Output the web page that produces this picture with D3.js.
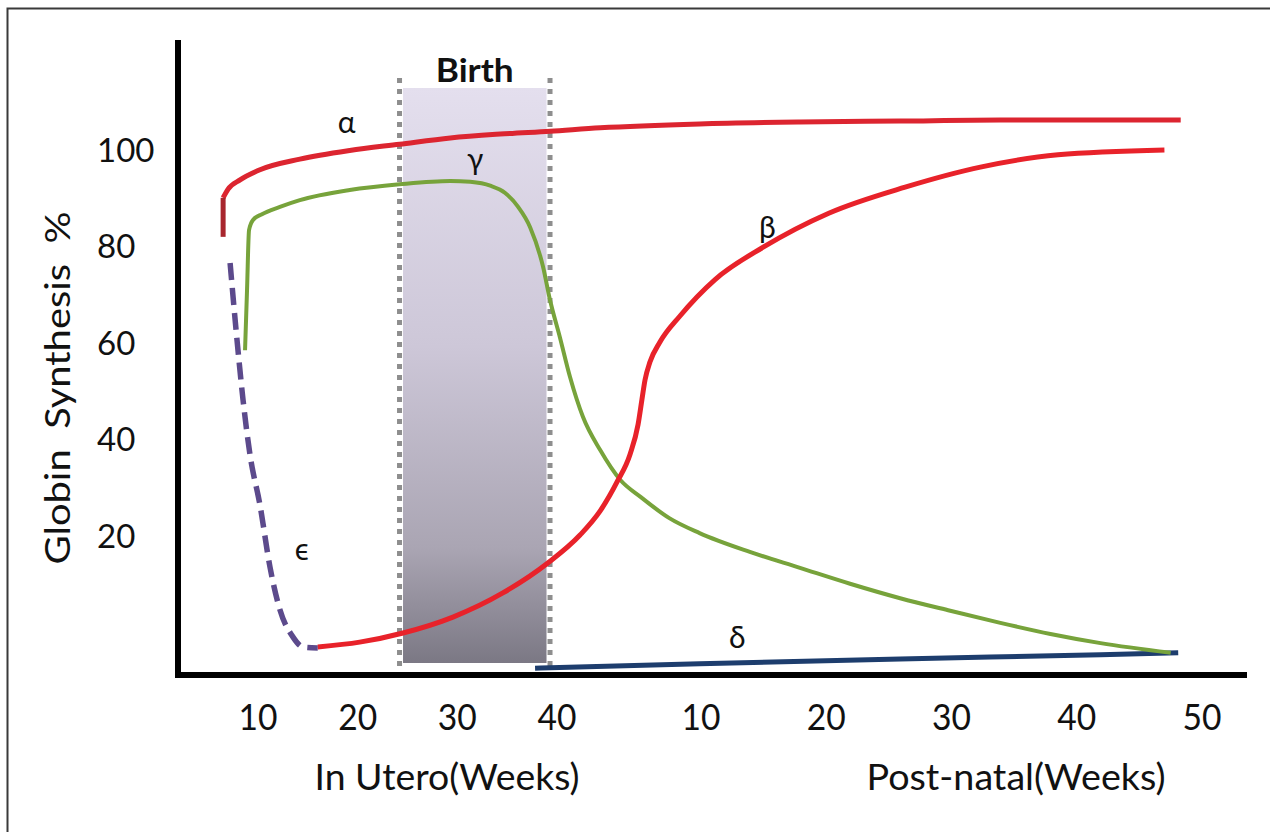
<!DOCTYPE html>
<html>
<head>
<meta charset="utf-8">
<script src="https://cdn.jsdelivr.net/npm/d3@7"></script>
<style>
	body { margin: 0; background: #fff; }
	svg text { font-family: Lato, "Open Sans", sans-serif; fill: #111; }
</style>
</head>
<body>
<svg id="chart" width="1270" height="832"></svg>
<script>
// timeline in weeks: 0-40 = in utero, 40 + w = post-natal week w
var yTicks = [20, 40, 60, 80, 100];
var uteroTicks = [10, 20, 30, 40];
var postTicks = [10, 20, 30, 40, 50];
var birthWindow = [24.2, 39.3];

// [week on timeline, globin synthesis %]
var alphaStem = [[6.5, 82.0], [6.5, 90.1]];
var alphaSeries = [[6.5, 90.1], [7.0, 91.9], [8.2, 93.8], [10.2, 95.9], [14.2, 98.1], [19.2, 99.9], [24.2, 101.2], [29.3, 102.5], [34.3, 103.3], [39.3, 103.9], [43.0, 104.6], [49.9, 105.4], [57.9, 105.8], [65.9, 106.0], [73.9, 106.2], [88.3, 106.2]];
var gammaSeries = [[8.7, 58.5], [8.9, 71.0], [9.1, 83.4], [9.5, 85.5], [10.4, 86.7], [12.2, 88.2], [14.2, 89.6], [19.2, 91.7], [24.2, 92.9], [29.3, 93.6], [31.3, 93.4], [33.3, 92.6], [34.8, 91.1], [36.1, 88.2], [37.3, 84.0], [38.6, 75.8], [39.3, 68.9], [40.2, 61.2], [40.9, 53.0], [41.8, 44.7], [43.0, 37.8], [44.4, 31.6], [45.8, 28.1], [47.8, 23.7], [49.9, 20.6], [53.9, 16.7], [57.9, 13.4], [61.9, 10.1], [65.9, 7.1], [69.9, 4.5], [73.9, 2.0], [77.9, -0.3], [81.9, -2.2], [87.5, -4.2]];
var epsilonSeries = [[7.2, 76.6], [7.8, 62.7], [8.5, 48.2], [9.2, 36.8], [10.2, 26.4], [11.2, 13.6], [12.2, 4.7], [13.5, -0.9], [14.5, -3.0], [16.0, -3.2]];
var betaSeries = [[16.0, -3.0], [20.2, -2.0], [24.55, -0.1], [29.56, 3.2], [34.57, 8.2], [39.08, 14.4], [41.6, 20.2], [43.0, 25.2], [44.17, 31.2], [45.07, 36.9], [45.63, 43.1], [45.9, 48.3], [46.11, 52.3], [46.46, 56.1], [47.15, 60.2], [48.54, 65.6], [51.1, 73.1], [55.0, 79.9], [60.2, 86.9], [66.3, 92.3], [72.4, 96.5], [78.5, 99.0], [87.0, 100.0]];
var deltaSeries = [[37.8, -7.4], [49.9, -6.5], [65.9, -5.5], [81.9, -4.6], [88.1, -4.2]];

var curveLabels = [
	{ text: 'α', week: 18.9, value: 103.5 },
	{ text: 'γ', week: 31.8, value: 95.9 },
	{ text: 'β', week: 55.3, value: 81.8 },
	{ text: 'ϵ', week: 14.4, value: 15.0 },
	{ text: 'δ', week: 52.9, value: -3.2 }
];

(function() {

	var svg = d3.select('#chart');
	var scales = {};
	var axisLeftX = 178;
	var axisBottomY = 675;

	function setupScales() {
		// piecewise: in utero weeks are narrower than post-natal weeks
		scales.x = d3.scaleLinear()
			.domain([10, 40, 50, 90])
			.range([258, 557, 701, 1202]);

		scales.y = d3.scaleLinear()
			.domain([0, 100])
			.range([632.5, 150]);
	}

	function setupDefs() {
		var grad = svg.append('defs').append('linearGradient')
			.attr('id', 'birthFill')
			.attr('x1', 0).attr('y1', 0).attr('x2', 0).attr('y2', 1);

		grad.append('stop').attr('offset', '0%').attr('stop-color', '#e4dfee');
		grad.append('stop').attr('offset', '45%').attr('stop-color', '#cdc7d8');
		grad.append('stop').attr('offset', '80%').attr('stop-color', '#aaa5b3');
		grad.append('stop').attr('offset', '100%').attr('stop-color', '#7b7884');
	}

	function drawFrame() {
		svg.append('path')
			.attr('d', 'M7.5,832V8.5H1270')
			.attr('fill', 'none')
			.attr('stroke', '#3a3a3a')
			.attr('stroke-width', 2);
	}

	function drawBirth() {
		var x0 = scales.x(birthWindow[0]);
		var x1 = scales.x(birthWindow[1]);

		svg.append('rect')
			.attr('x', x0 + 3.5)
			.attr('y', 88)
			.attr('width', x1 - x0 - 7)
			.attr('height', 575)
			.attr('fill', 'url(#birthFill)');

		svg.selectAll('.birth-line')
			.data(birthWindow)
			.enter()
			.append('line')
			.attr('class', 'birth-line')
			.attr('x1', function(d) { return scales.x(d); })
			.attr('x2', function(d) { return scales.x(d); })
			.attr('y1', 78)
			.attr('y2', 666)
			.attr('stroke', '#8e8e8e')
			.attr('stroke-width', 5)
			.attr('stroke-dasharray', '5,6');

		svg.append('text')
			.attr('x', (x0 + x1) / 2)
			.attr('y', 82)
			.attr('text-anchor', 'middle')
			.style('font-weight', 'bold')
			.style('font-size', '32px')
			.attr('textLength', 78)
			.attr('lengthAdjust', 'spacingAndGlyphs')
			.text('Birth');
	}

	function drawSeries() {
		var line = d3.line()
			.x(function(d) { return scales.x(d[0]); })
			.y(function(d) { return scales.y(d[1]); })
			.curve(d3.curveMonotoneX);

		var series = [
			{ data: deltaSeries, color: '#1d3d6d', width: 5, dash: null },
			{ data: gammaSeries, color: '#77a33b', width: 4, dash: null },
			{ data: epsilonSeries, color: '#5c4a8c', width: 5.5, dash: '17,8' },
			{ data: betaSeries, color: '#e8222a', width: 5, dash: null },
			{ data: alphaSeries, color: '#dc2530', width: 5, dash: null },
			{ data: alphaStem, color: '#a8262e', width: 5, dash: null }
		];

		svg.append('g').attr('class', 'lines')
			.selectAll('path')
			.data(series)
			.enter()
			.append('path')
			.attr('d', function(d) { return line(d.data); })
			.attr('fill', 'none')
			.attr('stroke', function(d) { return d.color; })
			.attr('stroke-width', function(d) { return d.width; })
			.attr('stroke-dasharray', function(d) { return d.dash; })
			.attr('stroke-linecap', 'butt');

		svg.append('g').attr('class', 'curve-labels')
			.selectAll('text')
			.data(curveLabels)
			.enter()
			.append('text')
			.attr('x', function(d) { return scales.x(d.week); })
			.attr('y', function(d) { return scales.y(d.value); })
			.attr('text-anchor', 'middle')
			.style('font-size', '30px')
			.text(function(d) { return d.text; });
	}

	function drawAxes() {
		svg.append('line')
			.attr('x1', axisLeftX).attr('x2', axisLeftX)
			.attr('y1', 40).attr('y2', axisBottomY + 3)
			.attr('stroke', '#000')
			.attr('stroke-width', 6);

		svg.append('line')
			.attr('x1', axisLeftX - 3).attr('x2', 1247)
			.attr('y1', axisBottomY).attr('y2', axisBottomY)
			.attr('stroke', '#000')
			.attr('stroke-width', 6);

		svg.append('g').attr('class', 'y-ticks')
			.selectAll('text')
			.data(yTicks)
			.enter()
			.append('text')
			.attr('x', 97)
			.attr('y', function(d) { return scales.y(d); })
			.attr('dy', '0.36em')
			.style('font-size', '33px')
			.text(function(d) { return d; });

		var xTicks = uteroTicks.map(function(w) { return { week: w, label: w }; })
			.concat(postTicks.map(function(w) { return { week: 40 + w, label: w }; }));

		svg.append('g').attr('class', 'x-ticks')
			.selectAll('text')
			.data(xTicks)
			.enter()
			.append('text')
			.attr('x', function(d) { return scales.x(d.week); })
			.attr('y', 730)
			.attr('text-anchor', 'middle')
			.style('font-size', '37px')
			.attr('textLength', 39)
			.attr('lengthAdjust', 'spacingAndGlyphs')
			.text(function(d) { return d.label; });

		svg.append('text')
			.attr('x', 447)
			.attr('y', 790)
			.attr('text-anchor', 'middle')
			.style('font-size', '36px')
			.attr('textLength', 265)
			.attr('lengthAdjust', 'spacingAndGlyphs')
			.text('In Utero(Weeks)');

		svg.append('text')
			.attr('x', 1016)
			.attr('y', 790)
			.attr('text-anchor', 'middle')
			.style('font-size', '36px')
			.attr('textLength', 299)
			.attr('lengthAdjust', 'spacingAndGlyphs')
			.text('Post-natal(Weeks)');

		svg.append('text')
			.attr('transform', 'translate(70,388)rotate(-90)')
			.attr('text-anchor', 'middle')
			.style('font-size', '34px')
			.style('white-space', 'pre')
			.attr('textLength', 353)
			.attr('lengthAdjust', 'spacingAndGlyphs')
			.text('Globin  Synthesis  %');
	}

	function init() {
		setupScales();
		setupDefs();
		drawFrame();
		drawBirth();
		drawSeries();
		drawAxes();
	}

	init();
})();
</script>
</body>
</html>
